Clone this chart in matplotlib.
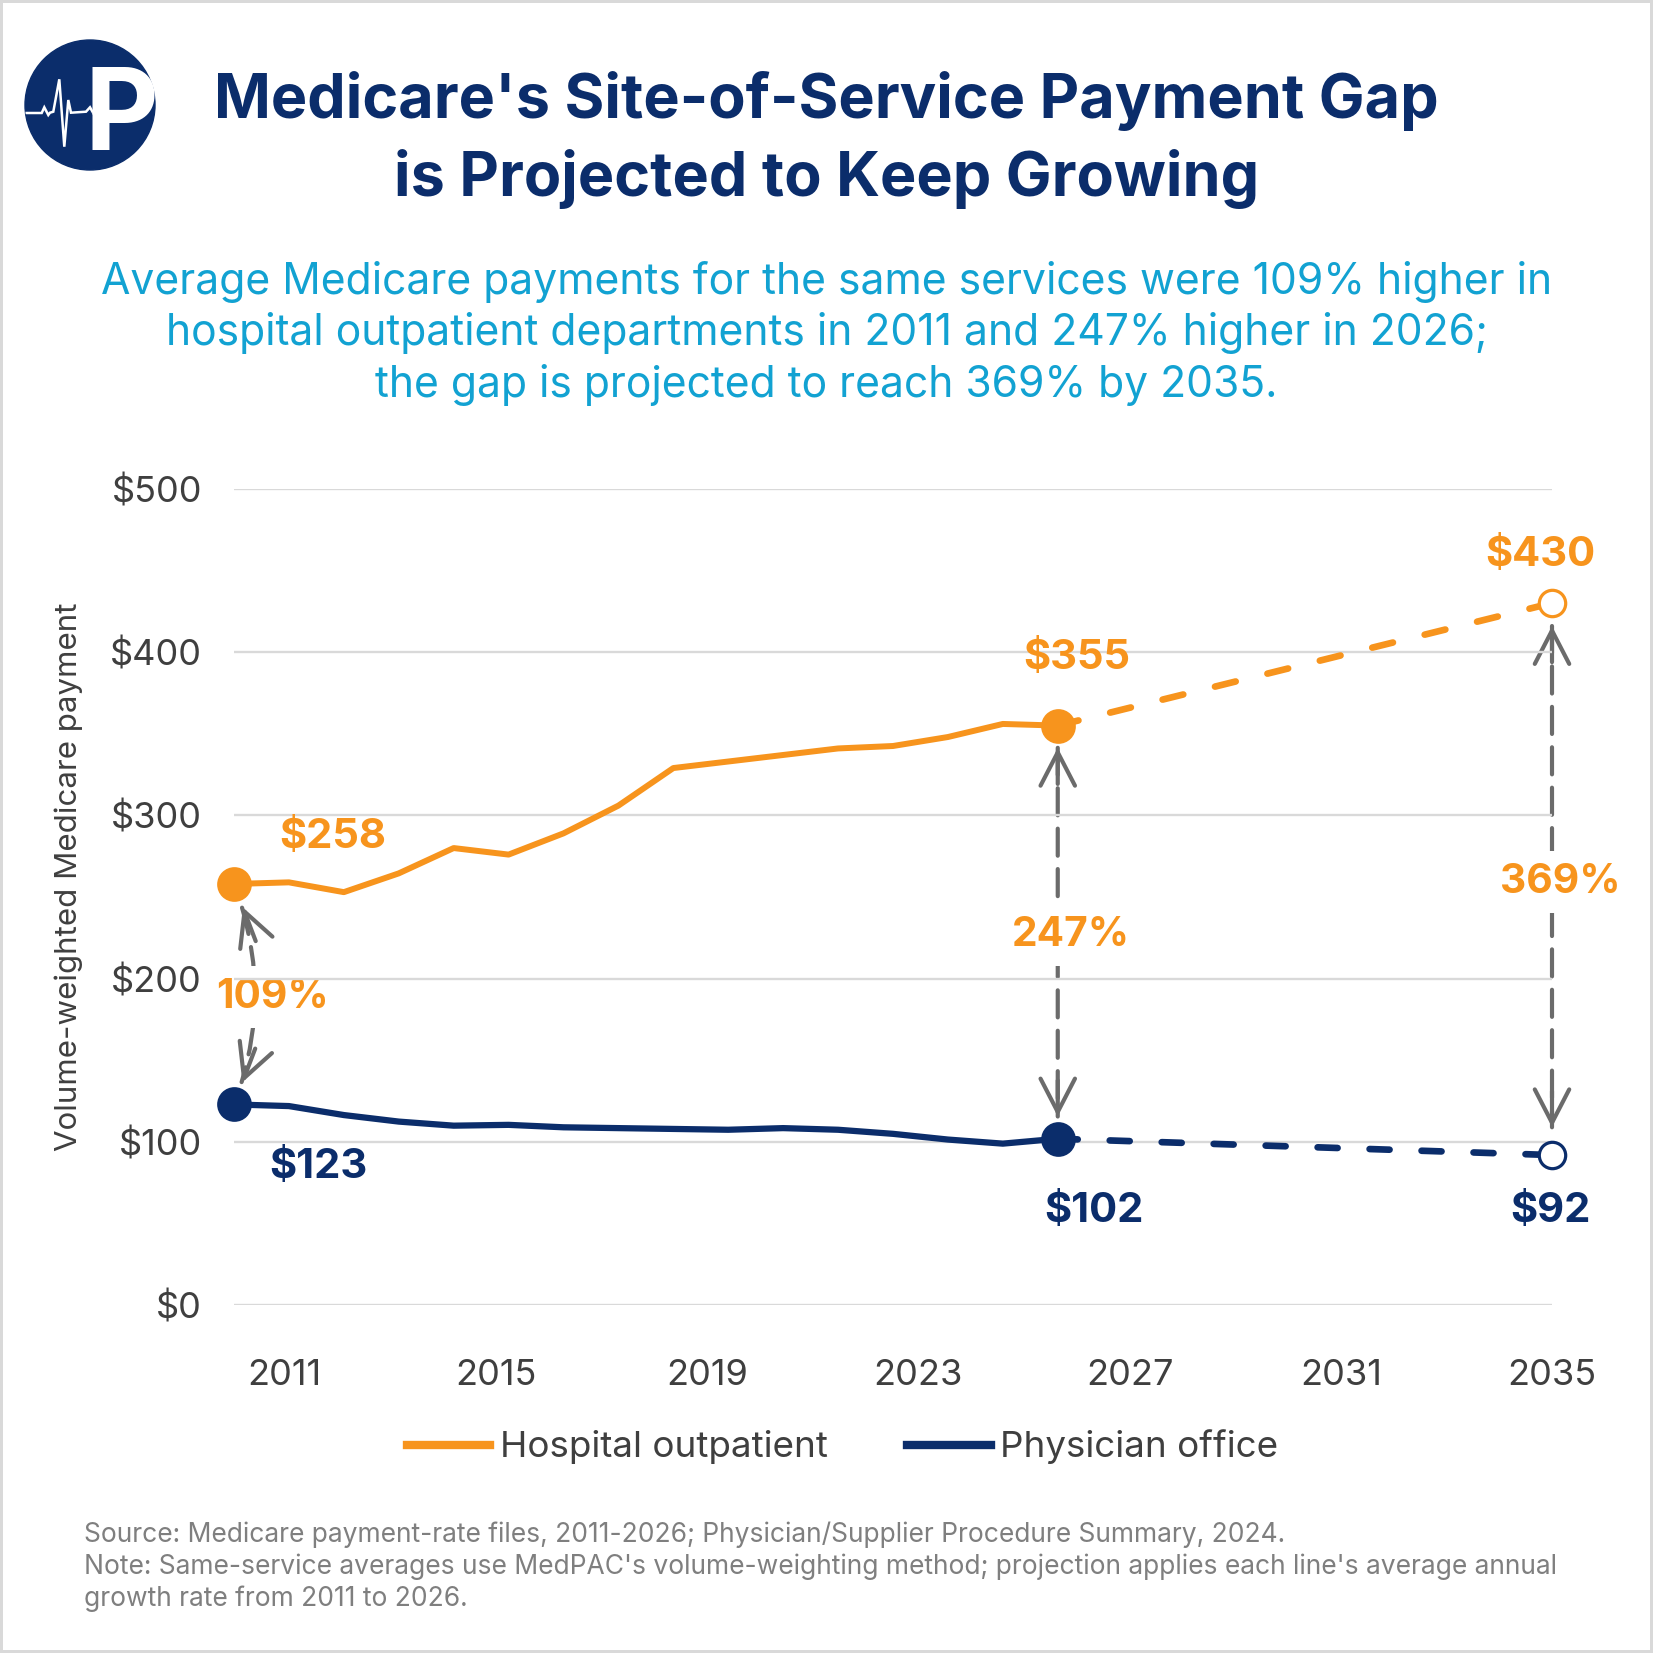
import numpy as np
import matplotlib.pyplot as plt
from matplotlib.lines import Line2D
from matplotlib.patches import Circle, Rectangle

plt.rcParams['font.family'] = ['Inter', 'DejaVu Sans']

NAVY = '#0B2D6B'
ORANGE = '#F7941D'
CYAN = '#12A2D2'
GRAY = '#6B6B6B'
DARK = '#3F3F3F'
GRID = '#D9D9D9'

# data
years = np.arange(2011, 2027)
hospital = [258, 259, 253, 264.5, 280, 276, 289, 306, 329, 333, 337, 341, 342.5, 348, 356, 355]
physician = [123, 122, 116.5, 112.5, 110, 110.5, 109, 108.5, 108, 107.5, 108.5, 107.5, 105, 101.5, 99, 102]
proj_years = [2026, 2035]
hospital_proj = [355, 430]
physician_proj = [102, 92]

gap_years = [2011, 2026, 2035]
gap_top = [258, 355, 430]
gap_bot = [123, 102, 92]
gap_labels = ['109%', '247%', '369%']

y_ticks = [0, 100, 200, 300, 400, 500]
y_tick_labels = ['$0', '$100', '$200', '$300', '$400', '$500']
x_tick_labels = ['2011', '2015', '2019', '2023', '2027', '2031', '2035']

title_lines = ["Medicare's Site-of-Service Payment Gap", "is Projected to Keep Growing"]
subtitle_lines = ["Average Medicare payments for the same services were 109% higher in",
                  "hospital outpatient departments in 2011 and 247% higher in 2026;",
                  "the gap is projected to reach 369% by 2035."]
notes = ["Source: Medicare payment-rate files, 2011-2026; Physician/Supplier Procedure Summary, 2024.",
         "Note: Same-service averages use MedPAC's volume-weighting method; projection applies each line's average annual",
         "growth rate from 2011 to 2026."]

W = 1653.0
fig = plt.figure(figsize=(16.53, 16.53), dpi=100)
fig.patch.set_facecolor('white')
fig.add_artist(Rectangle((0, 0), 1, 1, transform=fig.transFigure, fill=False,
                         edgecolor=GRID, lw=4.3))

# logo
lax = fig.add_axes([20 / W, 1 - 175 / W, 140 / W, 140 / W])
lax.set_xlim(-70, 70)
lax.set_ylim(-70, 70)
lax.axis('off')
disc = Circle((0, 0), 65, color=NAVY)
lax.add_patch(disc)
ptxt = lax.text(-5, -45, 'P', fontsize=82, fontweight='bold', color='white',
                ha='left', va='baseline')
ptxt.set_clip_path(disc)
beat_x = [-64, -48.3, -45.7, -41.7, -40, -36.7, -30.7, -25.7, -21.7, -19, -4, 0, 4.3]
beat_y = [-8, -8, -2.3, -10, -7.7, -6.7, 25.7, -41.7, 5, -7.7, -6.7, -2.3, -10]
hb, = lax.plot(beat_x, beat_y, color='white', lw=1.8, solid_joinstyle='miter')
hb.set_clip_path(disc)
cut, = lax.plot([4, 62], [-8, -11], color=NAVY, lw=1.6)
cut.set_clip_path(disc)

# titles
fig.text(0.5, 1 - 118 / W, title_lines[0], ha='center', va='baseline',
         fontsize=44, fontweight='bold', color=NAVY)
fig.text(0.5, 1 - 196 / W, title_lines[1], ha='center', va='baseline',
         fontsize=44, fontweight='bold', color=NAVY)
for i, line in enumerate(subtitle_lines):
    fig.text(0.5, 1 - (294 + 51.5 * i) / W, line, ha='center', va='baseline',
             fontsize=30.7, color=CYAN)

ax = fig.add_axes([234 / W, 1 - 1305.3 / W, 1318 / W, 816.5 / W])
ax.set_xlim(2011, 2035)
ax.set_ylim(0, 500)
for s in ax.spines.values():
    s.set_visible(False)
ax.set_yticks(y_ticks, y_tick_labels)
ax.set_xticks(np.linspace(2011.92, 2035, 7), x_tick_labels)
ax.tick_params(length=0, labelsize=26, labelcolor=DARK)
ax.tick_params(axis='y', pad=23)
ax.tick_params(axis='x', pad=39)
ax.yaxis.grid(True, color=GRID, lw=1.7)
ax.set_axisbelow(True)
fig.text(68.5 / W, 1 - 876.5 / W, 'Volume-weighted Medicare payment', rotation=90,
         ha='center', va='center', fontsize=22.5, color=DARK)

# lines
ax.plot(years, hospital, color=ORANGE, lw=4.3, zorder=3, clip_on=False)
ax.plot(years, physician, color=NAVY, lw=4.5, zorder=3, clip_on=False)
ax.plot(proj_years, hospital_proj, color=ORANGE, lw=4.8, ls=(0, (3.2, 4.9)),
        dash_capstyle='round', zorder=3, clip_on=False)
ax.plot(proj_years, physician_proj, color=NAVY, lw=4.8, ls=(0, (3.0, 4.8)),
        dash_capstyle='round', zorder=3, clip_on=False)
ax.plot([years[0], years[-1]], [hospital[0], hospital[-1]], 'o', ms=25, mew=0,
        color=ORANGE, zorder=4, clip_on=False)
ax.plot([years[0], years[-1]], [physician[0], physician[-1]], 'o', ms=25, mew=0,
        color=NAVY, zorder=4, clip_on=False)
ax.plot(proj_years[-1], hospital_proj[-1], 'o', ms=19, mfc='white', mec=ORANGE,
        mew=2.3, zorder=4, clip_on=False)
ax.plot(proj_years[-1], physician_proj[-1], 'o', ms=19, mfc='white', mec=NAVY,
        mew=2.3, zorder=4, clip_on=False)


def value_label(x, y, dx, dy, color):
    ax.annotate(f'${y:.0f}', xy=(x, y), xytext=(dx, dy), textcoords='offset points',
                ha='center', va='baseline', fontsize=30, fontweight='bold',
                color=color, annotation_clip=False, zorder=5)


value_label(years[0], hospital[0], 71, 25.7, ORANGE)
value_label(years[-1], hospital[-1], 14, 41, ORANGE)
value_label(proj_years[-1], hospital_proj[-1], -8.6, 26.7, ORANGE)
value_label(years[0], physician[0], 61, -53, NAVY)
value_label(years[-1], physician[-1], 26, -60, NAVY)
value_label(proj_years[-1], physician_proj[-1], -1.4, -48, NAVY)


def gap_arrow(x, y0, y1, s0, s1, rad):
    lw = 3.0
    ax.annotate('', xy=(x, y1), xytext=(x, y0), annotation_clip=False, zorder=0.3,
                arrowprops=dict(arrowstyle='-', connectionstyle=f'arc3,rad={rad}',
                                shrinkA=s0, shrinkB=s1, lw=lw, color=GRAY,
                                linestyle=(0, (6.5, 3.2))))
    p0 = ax.transData.transform((x, y0))
    p1 = ax.transData.transform((x, y1))
    d = p1 - p0
    ctrl = (p0 + p1) / 2 + rad * np.array([d[1], -d[0]])
    for p, s, yy in ((p0, s0, y0), (p1, s1, y1)):
        v = ctrl - p
        v = v / np.hypot(*v)
        ax.annotate('', xy=(x, yy), xytext=tuple(v * (s + 26)), textcoords='offset points',
                    annotation_clip=False, zorder=0.35,
                    arrowprops=dict(arrowstyle='->,head_length=1.2,head_width=0.62',
                                    mutation_scale=20, shrinkA=0, shrinkB=s, lw=lw,
                                    color=GRAY, capstyle='round', joinstyle='round'))


gap_arrow(gap_years[0], gap_top[0], gap_bot[0], 18, 17, -0.19)
gap_arrow(gap_years[1], gap_top[1], gap_bot[1], 16, 16, 0.0)
gap_arrow(gap_years[2], gap_top[2], gap_bot[2], 16.5, 20, 0.0)

for yr, t, b, lab, dx in zip(gap_years, gap_top, gap_bot, gap_labels, [28, 9.7, 6]):
    ax.annotate(lab, xy=(yr, (t + b) / 2), xytext=(dx, -10), textcoords='offset points',
                ha='center', va='baseline', fontsize=29.3, fontweight='bold', color=ORANGE,
                annotation_clip=False, zorder=0.4,
                bbox=dict(boxstyle='square,pad=0.3', fc='white', ec='none'))

handles = [Line2D([], [], color=ORANGE, lw=6), Line2D([], [], color=NAVY, lw=6)]
fig.legend(handles, ['Hospital outpatient', 'Physician office'], loc='center',
           bbox_to_anchor=(0.5095, 1 - 1447 / W), ncol=2, frameon=False, fontsize=26.5,
           labelcolor=DARK, handlelength=2.28, handletextpad=0.25, columnspacing=2.15)

for i, line in enumerate(notes):
    fig.text(84 / W, 1 - (1541.5 + 32 * i) / W, line, ha='left', va='baseline',
             fontsize=19, color='#7F7F7F')

fig.savefig('out.png', dpi=100, facecolor='white')
